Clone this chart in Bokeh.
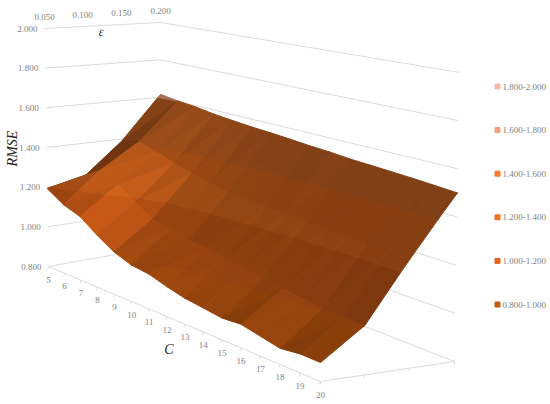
from bokeh.plotting import figure
from bokeh.embed import file_html
from bokeh.resources import INLINE
from bokeh.core.properties import value
import numpy as np

C_VALUES = list(range(5, 21))
EPS_LABELS = ["0.050", "0.100", "0.150", "0.200"]
Z_LABELS = ["0.800", "1.000", "1.200", "1.400", "1.600", "1.800", "2.000"]
RMSE_005 = [1.193, 1.14, 1.11, 1.05, 1.00, 0.97, 0.96, 0.935, 0.915, 0.905, 0.894, 0.90, 0.883, 0.866, 0.877, 0.876]
RMSE_010 = [1.23, 1.29, 1.24, 1.18, 1.13, 1.11, 1.09, 1.08, 1.065, 1.05, 1.035, 1.025, 1.015, 1.005, 1.00, 1.00]
RMSE_015 = [1.39, 1.41, 1.38, 1.35, 1.325, 1.305, 1.29, 1.28, 1.272, 1.268, 1.262, 1.258, 1.254, 1.25, 1.25, 1.25]
RMSE_020 = [1.615, 1.60, 1.59, 1.575, 1.565, 1.556, 1.55, 1.543, 1.535, 1.53, 1.522, 1.518, 1.514, 1.51, 1.505, 1.50]
BAND_LABELS = ["0.800-1.000", "1.000-1.200", "1.200-1.400", "1.400-1.600", "1.600-1.800", "1.800-2.000"]
BAND_COLORS = ["#C55A11", "#E2651A", "#F37321", "#F97B2B", "#F4A17F", "#F8B9A5"]
BAND_NORM = [1.0, 0.86, 0.84, 0.78, 1.0, 1.0]

Z = np.array([RMSE_005, RMSE_010, RMSE_015, RMSE_020]).T  # [C, eps]
Z0, Z1 = 0.8, 2.0

A, B, D_, D = [np.array(c, float) for c in [(48, 266), (320, 381), (454, 361), (160, 246)]]
TOP = [np.array(c, float) for c in [(-4, -238), (0, -300), (5, -289), (0, -224)]]
sx, sy = A - B + D_ - D
d1, d2 = B - D_, D - D_
det = d1[0]*d2[1] - d2[0]*d1[1]
g = (sx*d2[1] - d2[0]*sy)/det
h = (d1[0]*sy - sx*d1[1])/det
def proj(u, v, z):
    w = 1 + g*u + h*v
    f = (A + (B*(1+g) - A)*u + (D*(1+h) - A)*v)/w
    t = (z - Z0)/(Z1 - Z0)
    top = TOP[0]*(1-u)*(1-v) + TOP[1]*u*(1-v) + TOP[2]*u*v + TOP[3]*(1-u)*v
    return f + t*top

def shade(col, k):
    r = [int(col[i:i+2], 16) for i in (1, 3, 5)]
    return "#%02x%02x%02x" % tuple(int(min(255, c*k)) for c in r)

def clip(poly, lo, hi):
    for sign, lim in ((1, lo), (-1, hi)):
        out = []
        for i in range(len(poly)):
            a, b = poly[i], poly[(i+1) % len(poly)]
            da, db = sign*(a[2]-lim), sign*(b[2]-lim)
            if da >= 0:
                out.append(a)
            if da*db < 0:
                out.append(a + (b-a)*da/(da-db))
        poly = out
        if not poly:
            break
    return poly

nu, nv = Z.shape
xs, ys, cols = [], [], []
for i in range(nu-1):
    for j in range(nv-2, -1, -1):
        P = lambda a, b: np.array([float(a), float(b), Z[a, b]])
        qzu = 0.5*(Z[i+1, j] + Z[i+1, j+1] - Z[i, j] - Z[i, j+1])
        qzv = 0.5*(Z[i, j+1] + Z[i+1, j+1] - Z[i, j] - Z[i+1, j])
        tris = [(P(i, j+1), P(i+1, j+1), P(i, j)), (P(i+1, j+1), P(i+1, j), P(i, j))]
        for tri in tris:
            n = np.cross(tri[1]-tri[0], tri[2]-tri[0])
            zu = 0.6*qzu - 0.4*n[0]/n[2]
            zv = 0.6*qzv - 0.4*n[1]/n[2]
            k = np.clip(0.74 - 5.5*zu - 0.35*zv, 0.55, 1.15)
            for b, colr in enumerate(BAND_COLORS):
                lo = Z0 + b*0.2
                poly = clip(list(tri), lo, lo+0.2)
                if len(poly) >= 3:
                    pts = [proj(q[0]/(nu-1), q[1]/(nv-1), q[2]) for q in poly]
                    xs.append([q[0] for q in pts])
                    ys.append([q[1] for q in pts])
                    cols.append(shade(colr, k*BAND_NORM[b]))

p = figure(width=548, height=400, x_range=(0, 548), y_range=(400, 0),
           toolbar_location=None, output_backend="svg", min_border=0)
p.axis.visible = False
p.grid.visible = False
p.outline_line_color = None

GRID = "#DADADA"
GRAY = "#7F7F7F"
SERIF = value("Liberation Serif")
for k in range(len(Z_LABELS)):
    z = Z0 + k*0.2
    pts = [proj(0, 0, z), proj(0, 1, z), proj(1, 1, z)]
    p.line([q[0] for q in pts], [q[1] for q in pts], line_color=GRID, line_width=1)
pts = [proj(0, 0, Z0), proj(1, 0, Z0), proj(1, 1, Z0)]
p.line([q[0] for q in pts], [q[1] for q in pts], line_color=GRID, line_width=1)
for i in range(nu):
    q = proj(i/(nu-1), 0, Z0)
    p.segment([q[0]], [q[1]], [q[0]-1], [q[1]+3], line_color=GRID)
for j in range(nv):
    q = proj(1, j/(nv-1), Z0)
    p.segment([q[0]], [q[1]], [q[0]], [q[1]+3], line_color=GRID)

p.patches(xs, ys, fill_color=cols, line_color=cols, line_width=1.0)

def label(x, y, t, size="9px", color=GRAY, align="center", **kw):
    p.text(x=[x], y=[y], text=[t], text_font=kw.get("font", SERIF), text_font_size=size,
           text_color=color, text_align=align, text_baseline="middle",
           text_font_style=kw.get("style", "normal"), angle=kw.get("angle", 0))

for k, t in enumerate(Z_LABELS):
    q = proj(0, 0, Z0 + k*0.2)
    label(q[0]-7, q[1], t, align="right")
for j, t in enumerate(EPS_LABELS):
    q = proj(0, j/(nv-1), Z1)
    label(q[0], q[1]-12, t)
for i, c in enumerate(C_VALUES):
    q = proj(i/(nu-1), 0, Z0)
    label(q[0], q[1]+13, str(c))

q = proj(0, 0.45, Z1)
label(q[0]+5, q[1]+6, "ε", size="12px", color="#222222", style="italic")
q = proj(0.5, 0, Z0)
label(q[0]-7, q[1]+29, "C", size="14px", color="#222222", style="italic")
label(12, 148, "RMSE", size="14px", color="#222222", style="italic", angle=np.pi/2)

for b, (t, colr) in enumerate(zip(BAND_LABELS, BAND_COLORS)):
    y = 304 - b*43.6
    p.scatter([497], [y], marker="square", size=5, fill_color=colr, line_color=colr)
    label(502, y, t, align="left")

open("out.html", "w").write(file_html(p, INLINE))
